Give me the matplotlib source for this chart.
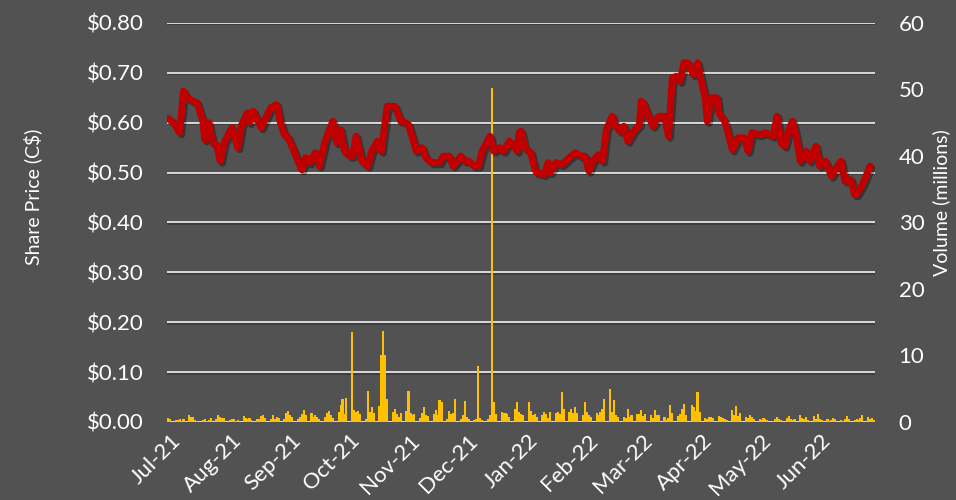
import matplotlib
matplotlib.use('Agg')
import matplotlib.pyplot as plt
import matplotlib.dates as mdates
import matplotlib.patheffects as pe
import matplotlib.transforms as mtransforms
import pandas as pd
import numpy as np

# ---------------- data ----------------
start_date = '2021-07-01'
end_date = '2022-06-30'

# share price readings: calendar-day offset from 2021-07-01, price in C$
price_day = [0, 3, 6, 8, 10, 13, 15, 18, 19, 21, 23, 25, 27, 29, 31, 33, 36, 38, 41, 42, 44, 48, 53, 56, 58, 60,
             62, 65, 67, 69, 71, 73, 76, 78, 81, 85, 87, 89, 91, 94, 95, 97, 100, 103, 105, 108, 110, 113, 117, 120,
             121, 124, 126, 128, 131, 133, 136, 140, 142, 145, 147, 151, 153, 155, 158, 160, 162, 166, 168, 171, 173,
             176, 178, 180, 181, 182, 184, 187, 189, 190, 194, 196, 197, 200, 203, 207, 210, 213, 215, 217, 219, 222,
             224, 226, 229, 231, 233, 235, 237, 240, 243, 244, 245, 247, 250, 253, 256, 258, 260, 262, 264, 266, 268,
             271, 273, 275, 277, 278, 280, 283, 284, 287, 289, 291, 294, 297, 299, 301, 305, 308, 312, 314, 316, 318,
             320, 322, 324, 326, 329, 331, 334, 336, 339, 342, 344, 347, 349, 352, 354, 355, 358, 362]
price = [0.609, 0.600, 0.580, 0.663, 0.650, 0.643, 0.640, 0.603, 0.566, 0.600, 0.560, 0.556, 0.523, 0.560, 0.576,
         0.590, 0.550, 0.596, 0.620, 0.600, 0.623, 0.590, 0.630, 0.636, 0.600, 0.576,
         0.570, 0.543, 0.523, 0.506, 0.530, 0.520, 0.540, 0.513, 0.563, 0.603, 0.560, 0.586, 0.543, 0.533, 0.533,
         0.573, 0.523, 0.513, 0.543, 0.563, 0.543, 0.633, 0.633, 0.603,
         0.603, 0.596, 0.570, 0.543, 0.550, 0.530, 0.520, 0.520, 0.533, 0.533, 0.513, 0.533, 0.523, 0.523, 0.513,
         0.513, 0.543, 0.573, 0.543, 0.550, 0.543, 0.563, 0.556, 0.543, 0.580, 0.583, 0.550, 0.540, 0.510, 0.500,
         0.496, 0.520, 0.500, 0.520, 0.516, 0.530, 0.540, 0.533, 0.533, 0.503, 0.523, 0.536, 0.523, 0.586, 0.613,
         0.593, 0.583, 0.593, 0.563, 0.583, 0.596, 0.643, 0.640, 0.620, 0.593, 0.613, 0.613, 0.573, 0.690, 0.693,
         0.683, 0.720, 0.720, 0.696, 0.720, 0.683, 0.650, 0.603, 0.650, 0.650, 0.620, 0.603, 0.576, 0.546, 0.570,
         0.570, 0.543, 0.580, 0.576, 0.580, 0.573, 0.613, 0.560, 0.553, 0.586, 0.603, 0.570, 0.523, 0.543, 0.523,
         0.553, 0.513, 0.523, 0.493, 0.506, 0.523, 0.483, 0.486, 0.456, 0.456, 0.476, 0.513]

# daily traded volume (millions), one value per trading day, grouped by month
vol_jul21 = [0.6, 0.4, 0.3, 0.3, 0.5, 0.2, 0.4, 1.1, 0.8, 0.7, 0.3, 0.2, 0.3, 0.5, 0.2, 0.3, 0.6, 0.4, 1.0, 0.7, 0.6, 0.6]
vol_aug21 = [0.3, 0.4, 0.5, 0.2, 0.3, 0.9, 0.6, 0.5, 0.6, 0.3, 0.5, 0.4, 0.9, 1.0, 0.6, 0.4, 1.0, 0.5, 0.7, 0.6, 0.4, 1.3]
vol_sep21 = [1.6, 1.0, 0.7, 0.5, 0.8, 1.2, 1.8, 1.0, 1.3, 0.8, 1.1, 0.7, 0.4, 0.8, 1.4, 1.7, 1.0, 0.6, 1.5, 2.6, 3.4, 1.2]
vol_oct21 = [3.6, 13.6, 1.8, 1.5, 1.6, 1.2, 0.5, 4.6, 1.5, 2.3, 1.4, 2.4, 10.1, 13.7, 10.1, 3.5, 1.5, 2.0, 1.2, 0.8, 1.3]
vol_nov21 = [1.6, 4.7, 1.4, 1.0, 1.2, 0.6, 1.3, 2.3, 1.1, 0.9, 1.2, 1.8, 1.0, 3.3, 3.0, 0.4, 1.7, 1.2, 1.4, 3.5, 0.5, 1.0]
vol_dec21 = [3.1, 0.8, 0.5, 0.3, 0.5, 8.4, 0.6, 0.3, 0.4, 1.0, 50.2, 3.0, 1.2, 1.5, 1.3, 1.4, 1.2, 0.8, 2.0, 3.0, 1.5, 1.2, 1.0]
vol_jan22 = [3.0, 1.6, 1.0, 1.2, 0.8, 1.0, 1.5, 1.2, 0.6, 1.5, 1.3, 1.5, 1.2, 4.5, 2.0, 1.5, 2.0, 1.4, 2.3, 1.3, 1.0]
vol_feb22 = [3.0, 1.5, 1.0, 0.8, 1.3, 1.0, 1.5, 2.0, 3.4, 4.9, 1.5, 3.3, 1.0, 0.7, 0.8, 0.6, 2.0, 0.8, 1.0, 1.2]
vol_mar22 = [1.2, 1.8, 0.9, 1.2, 1.0, 0.6, 1.8, 1.0, 1.1, 0.8, 0.3, 0.6, 2.6, 1.3, 0.9, 1.2, 2.0, 2.7, 1.0, 2.5, 2.3, 1.6, 4.5]
vol_apr22 = [1.5, 0.6, 0.5, 0.8, 0.7, 0.6, 0.9, 0.8, 0.6, 0.5, 0.3, 1.8, 1.0, 2.4, 0.9, 1.3, 0.8, 0.6, 1.0, 0.7, 0.5]
vol_may22 = [0.5, 0.3, 0.6, 0.4, 0.3, 0.2, 0.4, 0.8, 0.5, 0.3, 0.6, 0.9, 0.4, 0.3, 0.5, 1.0, 0.6, 0.4, 0.7, 0.3, 0.9, 0.5]
vol_jun22 = [1.2, 0.5, 0.3, 0.4, 0.2, 0.3, 0.6, 0.5, 0.3, 0.2, 0.4, 0.9, 0.5, 0.3, 0.4, 0.3, 0.6, 1.0, 0.7, 0.4, 0.6, 0.3]

price_ticks = [0.0, 0.1, 0.2, 0.3, 0.4, 0.5, 0.6, 0.7, 0.8]
volume_ticks = [0, 10, 20, 30, 40, 50, 60]

# ---------------- build series ----------------
price_dates = pd.Timestamp(start_date) + pd.to_timedelta(price_day, unit='D')
trade_days = pd.bdate_range(start_date, end_date)
volume = (vol_jul21 + vol_aug21 + vol_sep21 + vol_oct21 + vol_nov21 + vol_dec21 +
          vol_jan22 + vol_feb22 + vol_mar22 + vol_apr22 + vol_may22 + vol_jun22)
volume = volume[:len(trade_days)]
trade_days = trade_days[:len(volume)]

BG = '#525252'
GRID = '#D9D9D9'
TXT = '#FFFFFF'
plt.rcParams['font.family'] = ['Lato', 'DejaVu Sans']
TICK_FS = 16
LABEL_FS = 14

fig = plt.figure(figsize=(9.56, 5.0), dpi=100, facecolor=BG)
rect = [167 / 956, 1 - 422 / 500, (875 - 167) / 956, (422 - 23) / 500]
ax = fig.add_axes(rect)
ax.set_facecolor(BG)
axv = ax.twinx()
axl = ax.twinx()
ax.set_zorder(1)
axv.set_zorder(2)
axl.set_zorder(3)
for a in (axv, axl):
    a.patch.set_visible(False)

xmin = pd.Timestamp(start_date) - pd.Timedelta(hours=12)
xmax = pd.Timestamp(end_date) + pd.Timedelta(hours=12)

# grid on price axes
ax.set_ylim(0, 0.8)
ax.set_yticks(price_ticks)
ax.set_yticklabels([f'${v:.2f}' for v in price_ticks])
ax.grid(axis='y', color=GRID, lw=1.4)
for gl in ax.get_ygridlines():
    gl.set_path_effects([pe.SimpleLineShadow(offset=(0.5, -1), alpha=0.25), pe.Normal()])
ax.tick_params(axis='y', length=0, pad=17, labelcolor=TXT, labelsize=TICK_FS)
ax.set_ylabel('Share Price (C$)', color=TXT, fontsize=LABEL_FS)
ax.yaxis.set_label_coords((42 - 167) / 708, 1 - (197 - 23) / 399)

# volume bars
axv.bar(trade_days, volume, width=1.1, color='#FFC000', linewidth=0)
axv.set_ylim(0, 60)
axv.set_yticks(volume_ticks)
axv.tick_params(axis='y', length=0, pad=17, labelcolor=TXT, labelsize=TICK_FS)
axv.set_ylabel('Volume (millions)', color=TXT, fontsize=LABEL_FS)
axv.yaxis.set_label_coords((932 - 167) / 708, 1 - (203 - 23) / 399)

# price line
axl.plot(price_dates, price, color='#C00000', lw=5.0, solid_joinstyle='round', solid_capstyle='round',
         path_effects=[pe.SimpleLineShadow(offset=(1.5, -1.5), alpha=0.35, shadow_color='black'), pe.Normal()])
axl.set_ylim(0, 0.8)
axl.axis('off')

for a in (ax, axv, axl):
    a.set_xlim(xmin, xmax)
    for s in a.spines.values():
        s.set_visible(False)

month_starts = pd.date_range('2021-07-01', '2022-06-01', freq='MS')
ax.set_xticks(month_starts)
ax.set_xticklabels([d.strftime('%b-%y') for d in month_starts], rotation=45, ha='right',
                   rotation_mode='anchor', color=TXT, fontsize=TICK_FS)
ax.tick_params(axis='x', length=0, pad=6)
offset = mtransforms.ScaledTranslation(3 / 100, 0, fig.dpi_scale_trans)
for lbl in ax.get_xticklabels():
    lbl.set_transform(lbl.get_transform() + offset)

fig.savefig('out.png', dpi=100, facecolor=BG)
